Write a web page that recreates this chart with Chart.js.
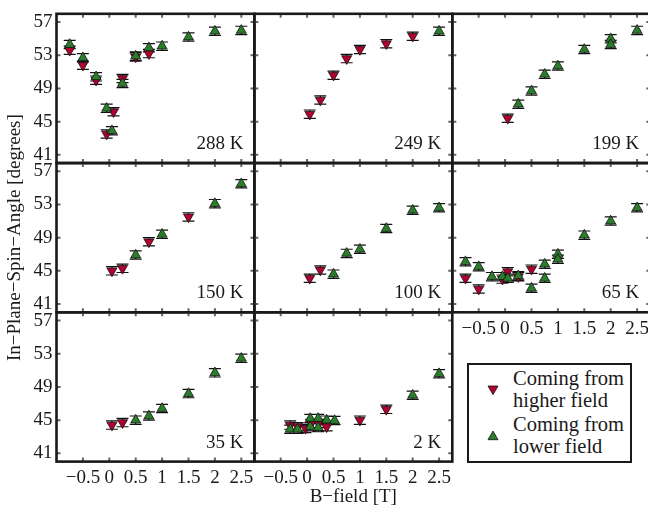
<!DOCTYPE html>
<html>
<head>
<meta charset="utf-8">
<script src="https://cdn.jsdelivr.net/npm/chart.js@4"></script>
<style>
  body { margin: 0; width: 648px; height: 505px; overflow: hidden; background: #fff; position: relative; font-family: "Liberation Serif", "Times New Roman", "DejaVu Serif", serif; color: #1a1a1a; }
  canvas { position: absolute; left: -20px; top: -20px; }
  .lab { position: absolute; width: 100px; text-align: right; font-size: 19px; line-height: 20px; }
  #legend { position: absolute; left: 467px; top: 363px; width: 161px; height: 96px; border: 2px solid #1a1a1a; background: #fff; z-index: 5; }
  #legend div { position: absolute; left: 44px; font-size: 20.5px; line-height: 21.5px; white-space: nowrap; }
  #legend svg { position: absolute; left: 18px; }
</style>
</head>
<body>
<div id="legend">
  <svg style="top:20px" width="12" height="11"><polygon points="1,1 11,1 6,9.7" fill="#b00030" stroke="#111" stroke-width="0.8"/></svg>
  <div style="top:3px">Coming from<br>higher field</div>
  <svg style="top:65px" width="12" height="11"><polygon points="1,9.7 11,9.7 6,1" fill="#2a7d2a" stroke="#111" stroke-width="0.8"/></svg>
  <div style="top:49px">Coming from<br>lower field</div>
</div>
<script>
// tick values
const xTicks = [-0.5, 0, 0.5, 1, 1.5, 2, 2.5];
const yTicks = [41, 45, 49, 53, 57];
const errBar = 0.5;

// 288 K
const x288Down = [-0.75, -0.5, -0.25, -0.05, 0.08, 0.25, 0.5, 0.75];
const y288Down = [53.6, 51.8, 50.0, 43.5, 46.2, 50.2, 52.8, 53.2];
const x288Up = [-0.75, -0.5, -0.25, -0.05, 0.05, 0.25, 0.5, 0.75, 1, 1.5, 2, 2.5];
const y288Up = [54.3, 52.7, 50.4, 46.6, 43.9, 49.6, 52.9, 53.9, 54.1, 55.2, 55.9, 56.0];
// 249 K
const x249Down = [0.05, 0.25, 0.5, 0.75, 1, 1.5, 2];
const y249Down = [45.9, 47.6, 50.6, 52.6, 53.7, 54.4, 55.3];
const x249Up = [2.5];
const y249Up = [55.9];
// 199 K
const x199Down = [0.05];
const y199Down = [45.4];
const x199Up = [0.25, 0.5, 0.75, 1, 1.5, 2, 2, 2.5];
const y199Up = [47.1, 48.7, 50.7, 51.7, 53.7, 55.0, 54.3, 56.0];
// 150 K
const x150Down = [0.05, 0.25, 0.75, 1.5];
const y150Down = [45.0, 45.3, 48.5, 51.5];
const x150Up = [0.5, 1, 2, 2.5];
const y150Up = [46.9, 49.4, 53.1, 55.5];
// 100 K
const x100Down = [0.05, 0.25];
const y100Down = [44.1, 45.1];
const x100Up = [0.5, 0.75, 1, 1.5, 2, 2.5];
const y100Up = [44.6, 47.1, 47.6, 50.1, 52.3, 52.6];
// 65 K
const x65Down = [-0.75, -0.5, -0.05, 0.05, 0.25, 0.5];
const y65Down = [44.1, 42.8, 44.0, 44.9, 44.3, 45.2];
const x65Up = [-0.75, -0.5, -0.25, -0.05, 0.05, 0.25, 0.5, 0.75, 0.75, 1, 1, 1.5, 2, 2.5];
const y65Up = [46.1, 45.5, 44.3, 44.3, 44.1, 44.4, 42.9, 45.8, 44.1, 47.0, 46.4, 49.3, 51.0, 52.6];
// 35 K
const x35Down = [0.05, 0.25];
const y35Down = [44.4, 44.7];
const x35Up = [0.5, 0.75, 1, 1.5, 2, 2.5];
const y35Up = [45.0, 45.5, 46.4, 48.2, 50.7, 52.45];
// 2 K
const x2Down = [-0.32, -0.18, -0.03, 0.08, 0.22, 0.37, 1, 1.5];
const y2Down = [44.4, 44.2, 44.0, 44.6, 44.6, 44.2, 45.0, 46.3];
const x2Up = [-0.32, -0.18, 0.06, 0.06, 0.21, 0.21, 0.37, 0.52, 2, 2.5];
const y2Up = [43.9, 43.9, 45.2, 44.2, 45.2, 44.1, 45.0, 44.95, 48.0, 50.6];

const panels = [
  { label: '288 K', row: 0, col: 0, xd: x288Down, yd: y288Down, xu: x288Up, yu: y288Up },
  { label: '249 K', row: 0, col: 1, xd: x249Down, yd: y249Down, xu: x249Up, yu: y249Up },
  { label: '199 K', row: 0, col: 2, xd: x199Down, yd: y199Down, xu: x199Up, yu: y199Up },
  { label: '150 K', row: 1, col: 0, xd: x150Down, yd: y150Down, xu: x150Up, yu: y150Up, yTitle: true },
  { label: '100 K', row: 1, col: 1, xd: x100Down, yd: y100Down, xu: x100Up, yu: y100Up },
  { label: '65 K', row: 1, col: 2, xd: x65Down, yd: y65Down, xu: x65Up, yu: y65Up, xLabels: true },
  { label: '35 K', row: 2, col: 0, xd: x35Down, yd: y35Down, xu: x35Up, yu: y35Up },
  { label: '2 K', row: 2, col: 1, xd: x2Down, yd: y2Down, xu: x2Up, yu: y2Up, xTitle: true }
];

const OFF = 20, CW = 700, CH = 560;
const colLeft = [56.5, 254.3, 452.3], colW = 198;
const rowTop = [13.8, 163, 312.3], rowH = 149.3;
const red = '#b00030', green = '#2a7d2a';
const txt = '#1a1a1a';
const font = { family: '"Liberation Serif", "Times New Roman", "DejaVu Serif", serif', size: 19 };

function pts(xs, ys) {
  return xs.map(function (x, i) { return { x: x, y: ys[i] }; });
}
function minus(v) {
  return String(v).replace('-', '\u2212');
}

// frame, inward ticks and error bars
const boxPlugin = {
  id: 'box',
  beforeDatasetsDraw: function (chart) {
    const ctx = chart.ctx, a = chart.chartArea;
    const xs = chart.scales.x, ys = chart.scales.y;
    ctx.save();
    ctx.strokeStyle = '#666';
    ctx.lineWidth = 2;
    ctx.beginPath();
    xs.ticks.forEach(function (t) {
      const px = xs.getPixelForValue(t.value);
      ctx.moveTo(px, a.top); ctx.lineTo(px, a.top + 4);
      ctx.moveTo(px, a.bottom); ctx.lineTo(px, a.bottom - 4);
    });
    ys.ticks.forEach(function (t) {
      const py = ys.getPixelForValue(t.value);
      ctx.moveTo(a.left, py); ctx.lineTo(a.left + 4, py);
      ctx.moveTo(a.right, py); ctx.lineTo(a.right - 4, py);
    });
    ctx.stroke();
    // error bars
    ctx.strokeStyle = '#111';
    ctx.lineWidth = 1.2;
    ctx.beginPath();
    chart.data.datasets.forEach(function (ds) {
      ds.data.forEach(function (d) {
        const px = xs.getPixelForValue(d.x);
        const p1 = ys.getPixelForValue(d.y + errBar);
        const p2 = ys.getPixelForValue(d.y - errBar);
        ctx.moveTo(px, p1); ctx.lineTo(px, p2);
        ctx.moveTo(px - 6, p1); ctx.lineTo(px + 6, p1);
        ctx.moveTo(px - 6, p2); ctx.lineTo(px + 6, p2);
      });
    });
    ctx.stroke();
    ctx.restore();
  },
  afterDatasetsDraw: function (chart) {
    const ctx = chart.ctx, a = chart.chartArea;
    ctx.save();
    ctx.strokeStyle = txt;
    ctx.lineWidth = 2.6;
    ctx.strokeRect(a.left, a.top, a.right - a.left, a.bottom - a.top);
    ctx.restore();
  }
};

panels.forEach(function (p) {
  const cv = document.createElement('canvas');
  cv.width = CW; cv.height = CH;
  document.body.appendChild(cv);

  const L = colLeft[p.col] + OFF, T = rowTop[p.row] + OFF;
  const R = L + colW, B = T + rowH;
  const showY = p.col === 0;
  const showX = p.row === 2 || !!p.xLabels;
  const yW = showY ? 53 : 0;
  const xH = p.xTitle ? 47 : (showX ? 30 : 0);

  new Chart(cv, {
    type: 'scatter',
    data: {
      datasets: [
        {
          label: 'Coming from lower field',
          data: pts(p.xu, p.yu),
          pointStyle: 'triangle',
          pointRadius: 5.8,
          backgroundColor: green,
          borderColor: '#111',
          borderWidth: 0.8,
          order: 1
        },
        {
          label: 'Coming from higher field',
          data: pts(p.xd, p.yd),
          pointStyle: 'triangle',
          rotation: 180,
          pointRadius: 5.8,
          backgroundColor: red,
          borderColor: '#111',
          borderWidth: 0.8,
          order: 2
        }
      ]
    },
    options: {
      responsive: false,
      animation: false,
      devicePixelRatio: 1,
      events: [],
      layout: { padding: { left: L - yW, top: T, right: CW - R, bottom: CH - B - xH } },
      plugins: { legend: { display: false }, tooltip: { enabled: false } },
      scales: {
        x: {
          type: 'linear',
          min: -1,
          max: 2.75,
          afterBuildTicks: function (s) { s.ticks = xTicks.map(function (v) { return { value: v }; }); },
          afterFit: function (s) { s.height = xH; },
          grid: { display: false, drawTicks: false },
          border: { display: false },
          ticks: { display: showX, autoSkip: false, maxRotation: 0, padding: 5, color: txt, font: font, callback: minus },
          title: { display: !!p.xTitle, text: 'B\u2212field [T]', padding: 0, color: txt, font: font }
        },
        y: {
          min: 40,
          max: 58,
          afterBuildTicks: function (s) { s.ticks = yTicks.map(function (v) { return { value: v }; }); },
          afterFit: function (s) { s.width = yW; },
          grid: { display: false, drawTicks: false },
          border: { display: false },
          ticks: { display: showY, autoSkip: false, padding: 4, color: txt, font: font },
          title: { display: !!p.yTitle, text: 'In\u2212Plane\u2212Spin\u2212Angle [degrees]', padding: 0, color: txt, font: font }
        }
      }
    },
    plugins: [boxPlugin]
  });

  const lab = document.createElement('div');
  lab.className = 'lab';
  lab.textContent = p.label;
  lab.style.left = (R - OFF - 11 - 100) + 'px';
  lab.style.top = (B - OFF - 30) + 'px';
  document.body.appendChild(lab);
});
</script>
</body>
</html>
